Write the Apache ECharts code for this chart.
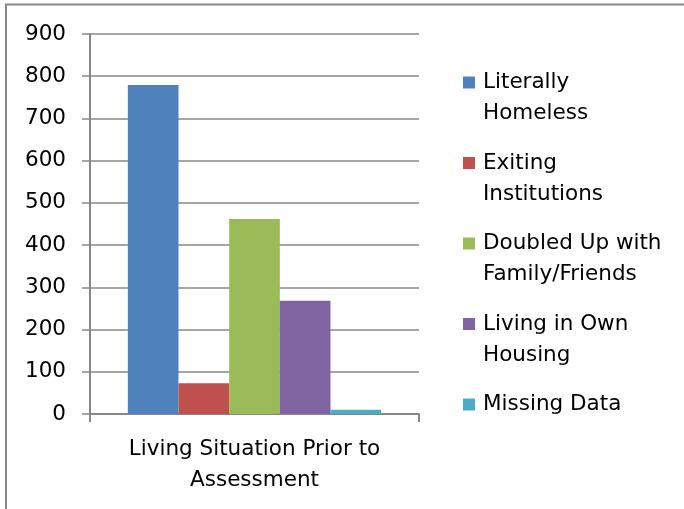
<!DOCTYPE html>
<html>
<head>
<meta charset="utf-8">
<script src="https://cdn.jsdelivr.net/npm/echarts@6/dist/echarts.min.js"></script>
<style>
  html, body { margin: 0; padding: 0; background: #fff; }
  #chart { width: 684px; height: 509px; }
</style>
</head>
<body>
<div id="chart"></div>
<script>
// Living situation prior to assessment
const categories = ['Living Situation Prior to\nAssessment'];
const seriesNames = ['Literally Homeless', 'Exiting Institutions', 'Doubled Up with Family/Friends', 'Living in Own Housing', 'Missing Data'];
const legendLabels = ['Literally\nHomeless', 'Exiting\nInstitutions', 'Doubled Up with\nFamily/Friends', 'Living in Own\nHousing', 'Missing Data'];
const literallyHomeless = [779];
const exitingInstitutions = [73];
const doubledUp = [462];
const ownHousing = [268];
const missingData = [10];
const yTicks = [0, 100, 200, 300, 400, 500, 600, 700, 800, 900];

const seriesValues = [literallyHomeless, exitingInstitutions, doubledUp, ownHousing, missingData];
const colors = ['#4F81BD', '#C0504D', '#9BBB59', '#8064A2', '#4BACC6'];
const FONT = 'DejaVu Sans';
const GRAY = '#878787';

const chart = echarts.init(document.getElementById('chart'));
chart.setOption({
  animation: false,
  color: colors,
  textStyle: { fontFamily: FONT },
  graphic: [{
    type: 'rect',
    shape: { x: 6, y: 4.5, width: 720, height: 560 },
    style: { fill: 'none', stroke: GRAY, lineWidth: 2 },
    silent: true
  }],
  grid: { left: 90, right: 265, top: 34, bottom: 95 },
  legend: {
    orient: 'vertical',
    left: 458,
    top: 31,
    itemWidth: 12,
    itemHeight: 12,
    itemGap: -12.5,
    icon: 'rect',
    data: seriesNames,
    formatter: function (name) {
      const label = legendLabels[seriesNames.indexOf(name)];
      // a leading blank line keeps the swatch level with the first text line
      return label.indexOf('\n') >= 0 ? '\n' + label : '\n' + label + '\n';
    },
    textStyle: { fontFamily: FONT, fontSize: 21.5, color: '#000', lineHeight: 31, padding: [0, 0, 0, 3] }
  },
  xAxis: {
    type: 'category',
    data: categories,
    axisLine: { lineStyle: { color: GRAY, width: 2 } },
    axisTick: { show: true, length: 8, lineStyle: { color: GRAY, width: 2 } },
    axisLabel: { margin: 20, color: '#000', fontSize: 21.5, lineHeight: 31, fontFamily: FONT }
  },
  yAxis: {
    type: 'value',
    min: yTicks[0],
    max: yTicks[yTicks.length - 1],
    interval: 100,
    axisLine: { show: true, lineStyle: { color: GRAY, width: 2 } },
    axisTick: { show: true, length: 8, lineStyle: { color: GRAY, width: 1.5 } },
    axisLabel: { margin: 24, color: '#000', fontSize: 21.5, fontFamily: FONT },
    splitLine: { lineStyle: { color: GRAY, width: 1.5 } }
  },
  series: seriesNames.map((name, i) => ({
    name: name,
    type: 'bar',
    data: seriesValues[i],
    barGap: '0%',
    barCategoryGap: '23%',
    itemStyle: { color: colors[i] }
  }))
});
</script>
</body>
</html>
